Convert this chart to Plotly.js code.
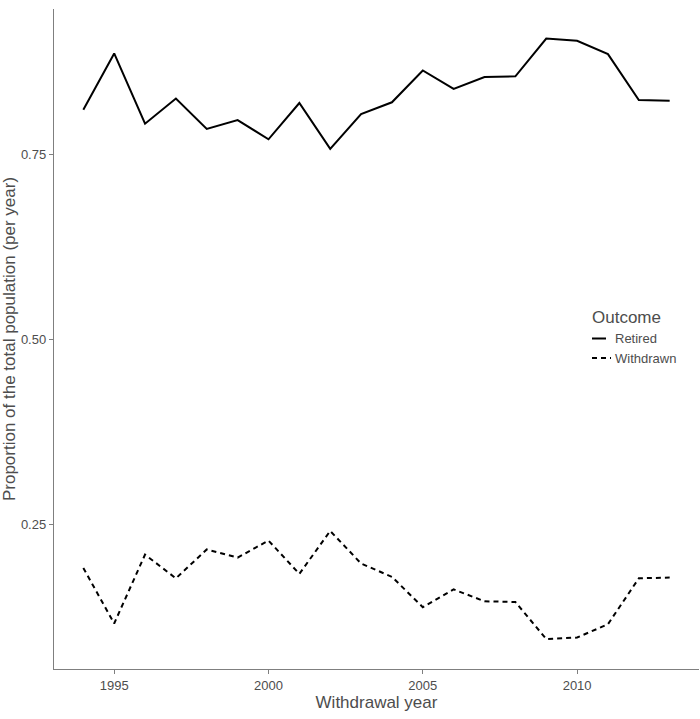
<!DOCTYPE html>
<html>
<head>
<meta charset="utf-8">
<script src="https://cdn.plot.ly/plotly-3.0.1.min.js"></script>
<style>html,body{margin:0;padding:0;background:#fff;}#chart{width:700px;height:719px;}</style>
</head>
<body>
<div id="chart"></div>
<script>
const years = [1994,1995,1996,1997,1998,1999,2000,2001,2002,2003,2004,2005,2006,2007,2008,2009,2010,2011,2012,2013];
const retired = [0.810,0.886,0.791,0.825,0.784,0.796,0.770,0.819,0.757,0.804,0.820,0.863,0.838,0.854,0.855,0.906,0.903,0.885,0.823,0.822];
const withdrawn = [0.191,0.116,0.209,0.177,0.216,0.205,0.228,0.183,0.241,0.197,0.179,0.138,0.162,0.146,0.145,0.095,0.097,0.115,0.177,0.178];
const seriesNames = ['Retired','Withdrawn'];
const legendTitle = 'Outcome';
const xTicks = [1995,2000,2005,2010];
const yTicks = [0.25,0.50,0.75];
const yTickText = ['0.25','0.50','0.75'];

const font = 'Liberation Sans, Arial, sans-serif';
const txt = '#4d4d4d';
const W = 700, H = 719, mL = 54, mR = 1, mT = 9, mB = 50;
const pw = W - mL - mR, ph = H - mT - mB;
const px = x => (x - mL) / pw;
const py = y => (H - mB - y) / ph;

const traces = [
  {x: years, y: retired, name: seriesNames[0], type: 'scatter', mode: 'lines',
   line: {color: '#000', width: 2}},
  {x: years, y: withdrawn, name: seriesNames[1], type: 'scatter', mode: 'lines',
   line: {color: '#000', width: 2, dash: '5px,4px'}}
];

const layout = {
  width: W, height: H,
  margin: {l: mL, r: mR, t: mT, b: mB},
  paper_bgcolor: '#fff', plot_bgcolor: '#fff',
  showlegend: false,
  font: {family: font, color: txt},
  xaxis: {
    range: [1993.05, 2013.95], tickvals: xTicks, ticks: 'outside', ticklen: 4,
    tickcolor: '#7f7f7f', tickwidth: 1, showline: true, linecolor: '#7f7f7f', linewidth: 1.2,
    showgrid: false, zeroline: false, tickfont: {size: 13, color: txt, family: font},
    title: {text: 'Withdrawal year', font: {size: 17, color: txt, family: font}, standoff: 4}
  },
  yaxis: {
    range: [0.0545, 0.946], tickvals: yTicks, ticktext: yTickText, ticks: 'outside', ticklen: 4,
    tickcolor: '#7f7f7f', tickwidth: 1, showline: true, linecolor: '#7f7f7f', linewidth: 1.2,
    showgrid: false, zeroline: false, tickfont: {size: 13, color: txt, family: font},
    title: {text: 'Proportion of the total population (per year)', font: {size: 17, color: txt, family: font}, standoff: 7}
  },
  shapes: [
    {type: 'line', xref: 'paper', yref: 'paper', x0: px(592), x1: px(606), y0: py(338.5), y1: py(338.5),
     line: {color: '#000', width: 2}},
    {type: 'line', xref: 'paper', yref: 'paper', x0: px(592), x1: px(611), y0: py(358), y1: py(358),
     line: {color: '#000', width: 2, dash: '5px,4px'}}
  ],
  annotations: [
    {text: legendTitle, xref: 'paper', yref: 'paper', x: px(590), y: py(317), xanchor: 'left', yanchor: 'middle',
     showarrow: false, font: {size: 17, color: txt, family: font}},
    {text: seriesNames[0], xref: 'paper', yref: 'paper', x: px(613), y: py(338.5), xanchor: 'left', yanchor: 'middle',
     showarrow: false, font: {size: 13, color: txt, family: font}},
    {text: seriesNames[1], xref: 'paper', yref: 'paper', x: px(613), y: py(358.5), xanchor: 'left', yanchor: 'middle',
     showarrow: false, font: {size: 13, color: txt, family: font}}
  ]
};

Plotly.newPlot('chart', traces, layout, {displayModeBar: false, staticPlot: true});
</script>
</body>
</html>
